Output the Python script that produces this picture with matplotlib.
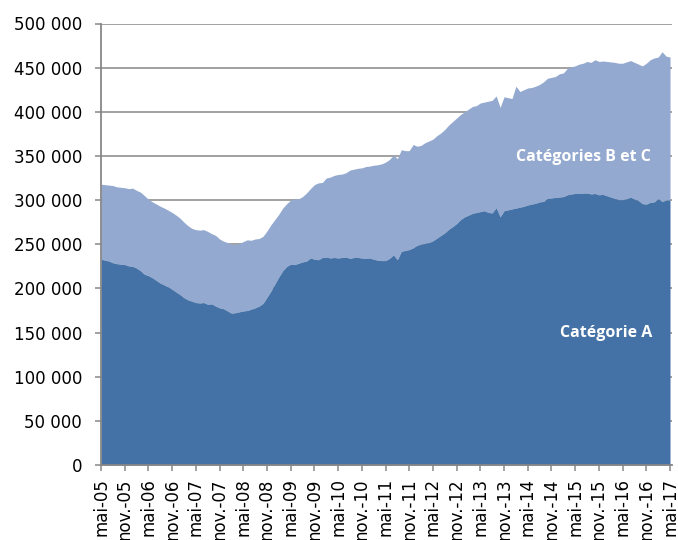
import matplotlib
matplotlib.use("Agg")
import matplotlib.pyplot as plt
import numpy as np

# monthly values, mai-05 .. mai-17 (145 months), in thousands
categorie_a = [
    233, 232, 231, 229, 228, 227.5, 227, 225.5, 225, 223,
    220, 216, 214.5, 212, 209, 206, 204, 201.5, 199, 196,
    193, 189.5, 187, 185.5, 184, 183.5, 184, 182, 182.5, 180,
    178, 177, 174.5, 172, 172.5, 173.5, 174.5, 175, 176.5, 178,
    180, 183, 190, 197, 205, 213, 220, 225, 227.5, 227,
    228.5, 230, 231, 234.5, 233, 232.5, 235, 235.5, 234.5, 235,
    234.5, 235, 235.5, 234, 235, 235, 234.5, 234, 234.5, 233,
    232, 231.5, 231.5, 234, 238, 232.5, 242, 243, 244, 246,
    249, 250, 251, 252, 254, 257, 260, 263, 267, 270,
    273.5, 278, 281, 283, 285, 286, 287, 288, 286, 285.5,
    291.5, 281, 288, 289, 290, 291, 292, 293, 294.5, 295.5,
    296.5, 298, 298.5, 302, 302.5, 303, 303.5, 304, 306, 307,
    307.5, 307.5, 308, 308, 307, 307.5, 306, 306.5, 305, 303.5,
    302, 300.5, 300.5, 301.5, 303.5, 301, 299.5, 296, 295.5, 297.5,
    298, 301.5, 298.5, 300, 300,
]

# top of the stack: categories A, B et C together
total_abc = [
    318, 317.5, 317, 316.5, 315, 314.5, 314, 313, 313.5, 311,
    309, 305, 301, 298, 295.5, 293, 291, 288.5, 286, 283,
    279.5, 275, 271, 268, 266.5, 266, 266.5, 264.5, 262, 260,
    256, 253.5, 252, 250, 250, 251, 253, 255, 254.5, 256,
    256.5, 259, 265, 272, 278, 284, 291, 296, 300, 301.5,
    301.5, 304, 308, 313, 317.5, 319.5, 320, 325, 326, 328,
    329, 329.5, 331, 334, 335, 336, 336.5, 338, 338.5, 339.5,
    340, 341, 343, 346, 351, 347, 357, 356, 356, 363,
    361, 362, 365, 367, 369, 373, 376, 380, 385, 389,
    393, 397, 400, 403, 406, 407, 410, 411, 412, 413,
    418, 405, 417, 416, 415, 429, 423, 425, 427, 427.5,
    429, 431, 434, 438, 439, 440, 443, 444, 449, 451,
    452, 454, 455, 457, 456, 459, 457, 457.5, 457, 456.5,
    456, 455, 455, 456.5, 458, 456, 454, 452, 455, 459,
    461, 462, 468, 463, 462,
]

x_labels = []
for yr in range(5, 18):
    x_labels.append(f"mai-{yr:02d}")
    if yr < 17:
        x_labels.append(f"nov.-{yr:02d}")

y_ticks = [0, 50000, 100000, 150000, 200000, 250000, 300000, 350000, 400000, 450000, 500000]
y_labels = ["0", "50 000", "100 000", "150 000", "200 000", "250 000",
            "300 000", "350 000", "400 000", "450 000", "500 000"]

DARK = "#4572A6"
LIGHT = "#94A9CF"
GRID = "#878787"

a = np.array(categorie_a) * 1000
tot = np.array(total_abc) * 1000
months = np.arange(len(a))

fig = plt.figure(figsize=(6.78, 5.40), dpi=100)
ax = fig.add_axes([101 / 678, 75 / 540, 571 / 678, 441.5 / 540])

ax.fill_between(months, a, tot, color=LIGHT, lw=0, zorder=2)
ax.fill_between(months, 0, a, color=DARK, lw=0, zorder=2)

ax.set_xlim(0, 144.5)
ax.set_ylim(0, 500000)
ax.set_yticks(y_ticks)
ax.set_yticklabels(y_labels)
ax.set_xticks(np.arange(0, 145, 6))
ax.set_xticklabels(x_labels, rotation=90)

ax.grid(axis="y", color=GRID, lw=1.1, zorder=0)
ax.set_axisbelow(True)
for side in ("top", "right"):
    ax.spines[side].set_visible(False)
for side in ("left", "bottom"):
    ax.spines[side].set_color(GRID)
    ax.spines[side].set_linewidth(1.3)
    ax.spines[side].set_zorder(3)

ax.tick_params(axis="y", length=4.5, width=1.1, color=GRID, pad=9,
               labelsize=12, labelcolor="black")
ax.tick_params(axis="x", length=4.5, width=1.1, color=GRID, pad=5,
               labelsize=12, labelcolor="black")

ax.text(122.2, 349000, "Catégories B et C", color="white", fontsize=11.5,
        fontweight="bold", family="Open Sans", ha="center", va="center", zorder=4)
ax.text(127.8, 149000, "Catégorie A", color="white", fontsize=11.5,
        fontweight="bold", family="Open Sans", ha="center", va="center", zorder=4)

fig.savefig("out.png", dpi=100)
